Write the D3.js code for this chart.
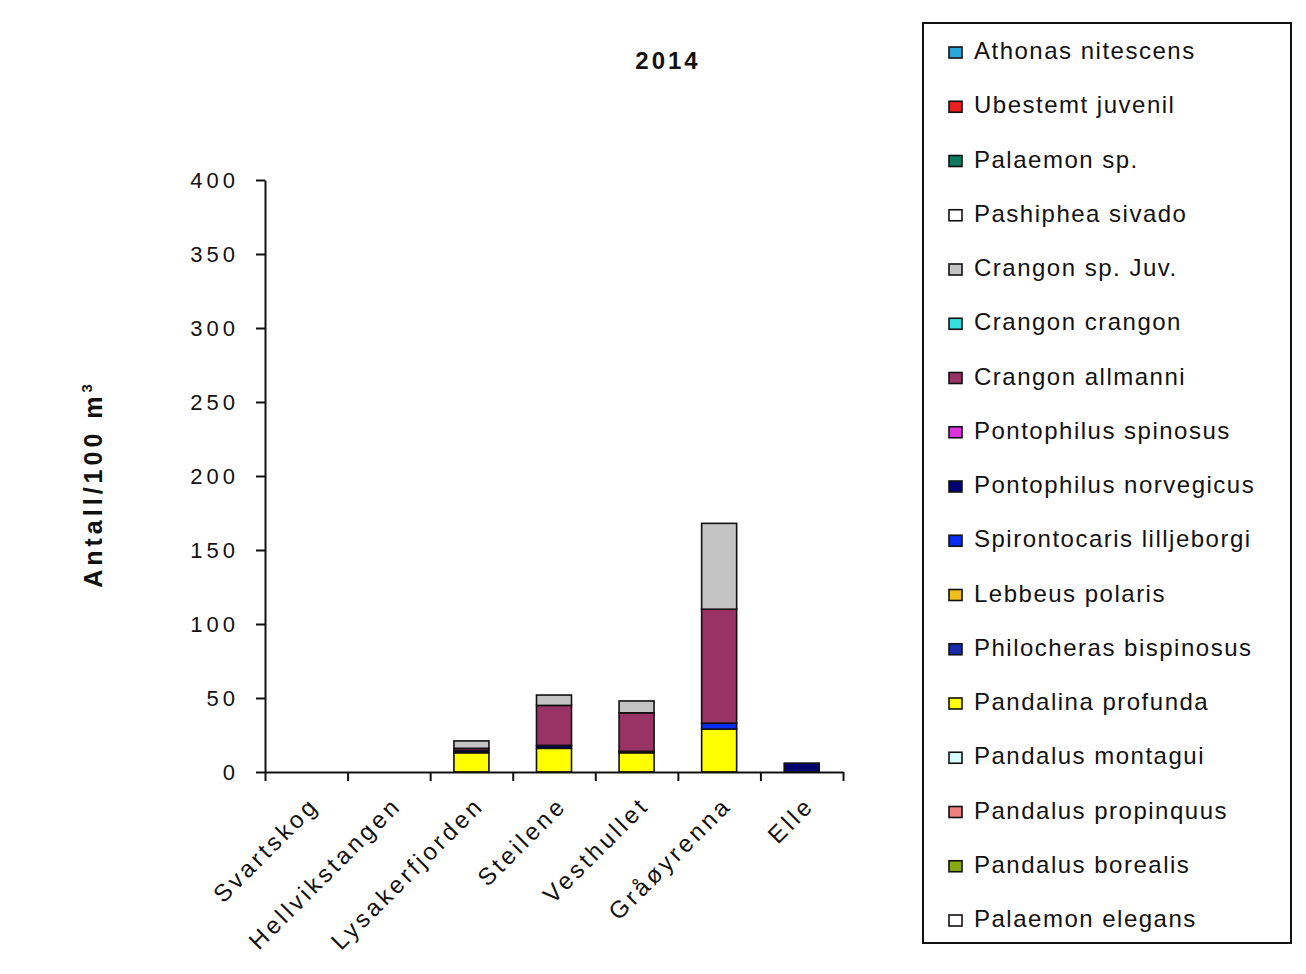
<!DOCTYPE html>
<html><head><meta charset="utf-8">
<script src="https://cdn.jsdelivr.net/npm/d3@7"></script>
<style>
body{margin:0;background:#fff;}
text{font-family:"Liberation Sans",Arial,sans-serif;fill:#111;}
</style></head>
<body><svg id="c" width="1306" height="974"></svg>
<script>
const title = "2014";
const yLabel = "Antall/100 m";
const sites = ["Svartskog","Hellvikstangen","Lysakerfjorden","Steilene","Vesthullet","Gråøyrenna","Elle"];
const yTicks = [0,50,100,150,200,250,300,350,400];
// legend order (top to bottom); stacking goes in reverse order (bottom = last)
const species = ["Athonas nitescens","Ubestemt juvenil","Palaemon sp.","Pashiphea sivado","Crangon sp. Juv.","Crangon crangon","Crangon allmanni","Pontophilus spinosus","Pontophilus norvegicus","Spirontocaris lilljeborgi","Lebbeus polaris","Philocheras bispinosus","Pandalina profunda","Pandalus montagui","Pandalus propinquus","Pandalus borealis","Palaemon elegans"];
const colors = ["#2aa8dc","#e82020","#0f7a5e","#ffffff","#c4c4c4","#33dede","#993366","#dd33dd","#000070","#0a2cf0","#f0c020","#1a2aa8","#ffff00","#d8ffff","#f08080","#88aa10","#ffffff"];
// values per species, per site (same order as sites)
const athonas      = [0,0,0,0,0,0,0];
const ubestemt     = [0,0,0,0,0,0,0];
const palaemonSp   = [0,0,0,0,0,0,0];
const pashiphea    = [0,0,0,0,0,0,0];
const crangonJuv   = [0,0,5,7,8,58,0];
const crangonCr    = [0,0,0,0,0,0,0];
const allmanni     = [0,0,1.5,27,26,77,0];
const spinosus     = [0,0,0,0,0,0,0];
const norvegicus   = [0,0,1.5,2,1,0,6];
const spirontocaris= [0,0,0,0,0,4,0];
const lebbeus      = [0,0,0,0,0,0,0];
const philocheras  = [0,0,0,0,0,0,0];
const pandalina    = [0,0,13,16,13,29,0];
const montagui     = [0,0,0,0,0,0,0];
const propinquus   = [0,0,0,0,0,0,0];
const borealis     = [0,0,0,0,0,0,0];
const elegans      = [0,0,0,0,0,0,0];
const seriesValues = [athonas,ubestemt,palaemonSp,pashiphea,crangonJuv,crangonCr,allmanni,spinosus,norvegicus,spirontocaris,lebbeus,philocheras,pandalina,montagui,propinquus,borealis,elegans];

const svg = d3.select("#c");
const L=265, R=843, T=180, B=772;
const x = d3.scaleBand().domain(sites).range([L,R]).paddingInner(0.576).paddingOuter(0.288);
const xl = d3.scaleLinear().domain([0,sites.length]).range([L,R]);
const y = d3.scaleLinear().domain([0,400]).range([B,T]);

const stackKeys = species.slice().reverse();
const rows = sites.map((s,i)=>{const o={site:s}; species.forEach((sp,j)=>o[sp]=seriesValues[j][i]); return o;});
const stacked = d3.stack().keys(stackKeys)(rows);
const colorOf = d3.scaleOrdinal().domain(species).range(colors);

const g = svg.append("g");
stacked.forEach(layer=>{
  g.selectAll(null).data(layer.filter(d=>d[1]-d[0]>0)).join("rect")
    .attr("x",d=>x(d.data.site)).attr("width",x.bandwidth())
    .attr("y",d=>y(d[1])).attr("height",d=>y(d[0])-y(d[1]))
    .attr("fill",colorOf(layer.key)).attr("stroke","#111").attr("stroke-width",1.6);
});

// y axis
const ya = svg.append("g").attr("transform",`translate(${L},0)`)
  .call(d3.axisLeft(y).tickValues(yTicks).tickSize(9).tickSizeOuter(0).tickPadding(17));
ya.select(".domain").attr("stroke","#111").attr("stroke-width",2);
ya.selectAll("line").attr("stroke","#111").attr("stroke-width",2);
ya.selectAll("text").style("font-size","22px").style("letter-spacing","4px").attr("fill","#222").attr("dy","0.36em");

// x axis with boundary ticks
const xa = svg.append("g").attr("transform",`translate(0,${B})`)
  .call(d3.axisBottom(xl).tickValues(d3.range(sites.length+1)).tickSize(9).tickSizeOuter(0).tickFormat(""));
xa.select(".domain").attr("stroke","#111").attr("stroke-width",2);
xa.selectAll("line").attr("stroke","#111").attr("stroke-width",2);

svg.append("g").selectAll("text").data(sites).join("text")
  .attr("transform",d=>`translate(${x(d)+x.bandwidth()/2+14},${B+35}) rotate(-45)`)
  .attr("text-anchor","end")
  .style("font-size","24px").style("letter-spacing","3.4px").attr("fill","#333")
  .text(d=>d);

// title
svg.append("text").attr("x",668).attr("y",69).attr("text-anchor","middle")
  .style("font-size","24px").style("font-weight","bold").style("letter-spacing","3px").text(title);

// y label
const yl = svg.append("text").attr("transform","translate(102,484) rotate(-90)").attr("text-anchor","middle")
  .style("font-size","25px").style("font-weight","bold").style("letter-spacing","4px");
yl.append("tspan").text(yLabel);
yl.append("tspan").attr("dy","-10").style("font-size","15px").text("3");

// legend
svg.append("rect").attr("x",923).attr("y",23).attr("width",368).attr("height",920)
  .attr("fill","none").attr("stroke","#111").attr("stroke-width",2);
const lg = svg.append("g").selectAll("g").data(species).join("g")
  .attr("transform",(d,i)=>`translate(949,${59+i*54.25})`);
lg.append("rect").attr("x",0).attr("y",-12).attr("width",13).attr("height",11)
  .attr("fill",d=>colorOf(d)).attr("stroke","#111").attr("stroke-width",1.6);
lg.append("text").attr("x",25).attr("y",0).style("font-size","24px").style("letter-spacing","1.5px").attr("fill","#222").text(d=>d);
</script></body></html>
